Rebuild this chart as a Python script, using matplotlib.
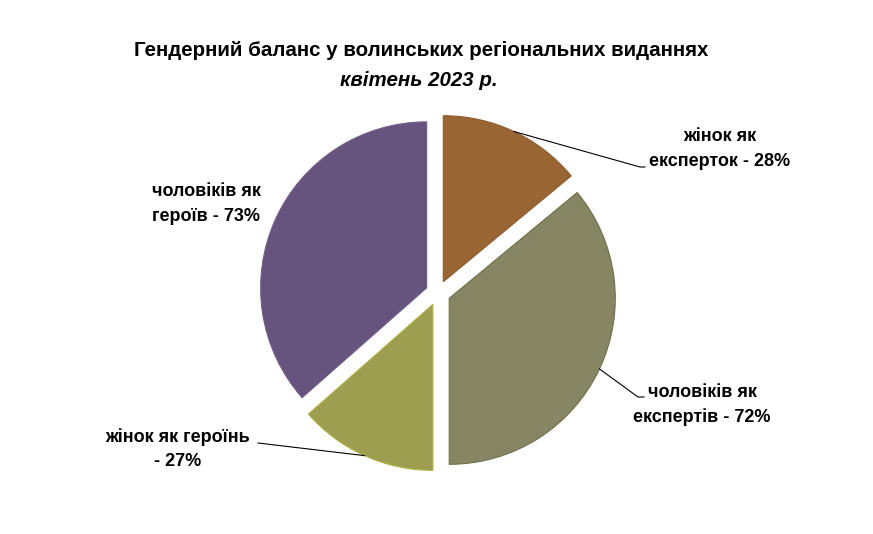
import numpy as np
import matplotlib
matplotlib.use('Agg')
import matplotlib.pyplot as plt

plt.rcParams['font.family'] = ['Liberation Sans', 'DejaVu Sans']

labels = ['жінок як\nексперток - 28%', 'чоловіків як\nекспертів - 72%',
          'жінок як героїнь\n- 27%', 'чоловіків як\nгероїв - 73%']
values = [28, 72, 27, 73]
colors = ['#996633', '#868664', '#9E9E50', '#67547E']
edges = ['#8c5c2e', '#6e6e48', '#b0b048', '#6f5d88']

W, H = 873, 534
cx, cy, R = 438, 293, 166      # pie centre / radius in pixels
expl = 0.075

def px(x, y):
    # image pixel -> data coords (unit = pie radius)
    return (x - cx) / R, (cy - y) / R

fig = plt.figure(figsize=(W / 100, H / 100), dpi=100)
ax = fig.add_axes([0, 0, 1, 1])

wedges, _ = ax.pie(values, colors=colors, startangle=90, counterclock=False,
                   explode=[expl] * len(values), radius=1,
                   wedgeprops=dict(linewidth=0.8))
for w, ec in zip(wedges, edges):
    w.set_edgecolor(ec)

# pie() resets the limits, so set them afterwards
ax.set_xlim(-cx / R, (W - cx) / R)
ax.set_ylim(-(H - cy) / R, cy / R)
ax.set_aspect('equal')
ax.axis('off')

# label positions (image pixels), leader line end points
label_pos = [(720, 149), (702, 405), (178, 449), (206, 204)]
leader_end = [[(640, 167), (645, 167)], [(638, 397), (644, 397)],
              [(258, 443)], None]

for w, lab, pos, le in zip(wedges, labels, label_pos, leader_end):
    tx, ty = px(*pos)
    ax.text(tx, ty, lab, ha='center', va='center', fontsize=13,
            fontweight='bold', linespacing=1.55, color='black')
    if le is None:
        continue
    thm = np.deg2rad(0.5 * (w.theta1 + w.theta2))
    x0 = w.center[0] + np.cos(thm)
    y0 = w.center[1] + np.sin(thm)
    pts = [(x0, y0)] + [px(*p) for p in le]
    xs, ys = zip(*pts)
    ax.plot(xs, ys, color='black', lw=0.8)

tx, ty = px(421, 50)
ax.text(tx, ty, 'Гендерний баланс у волинських регіональних виданнях',
        ha='center', va='center', fontsize=14.8, fontweight='bold')
tx, ty = px(419, 80)
ax.text(tx, ty, 'квітень 2023 р.', ha='center', va='center', fontsize=14.8,
        fontweight='bold', fontstyle='italic')

fig.savefig('out.png', dpi=100)
